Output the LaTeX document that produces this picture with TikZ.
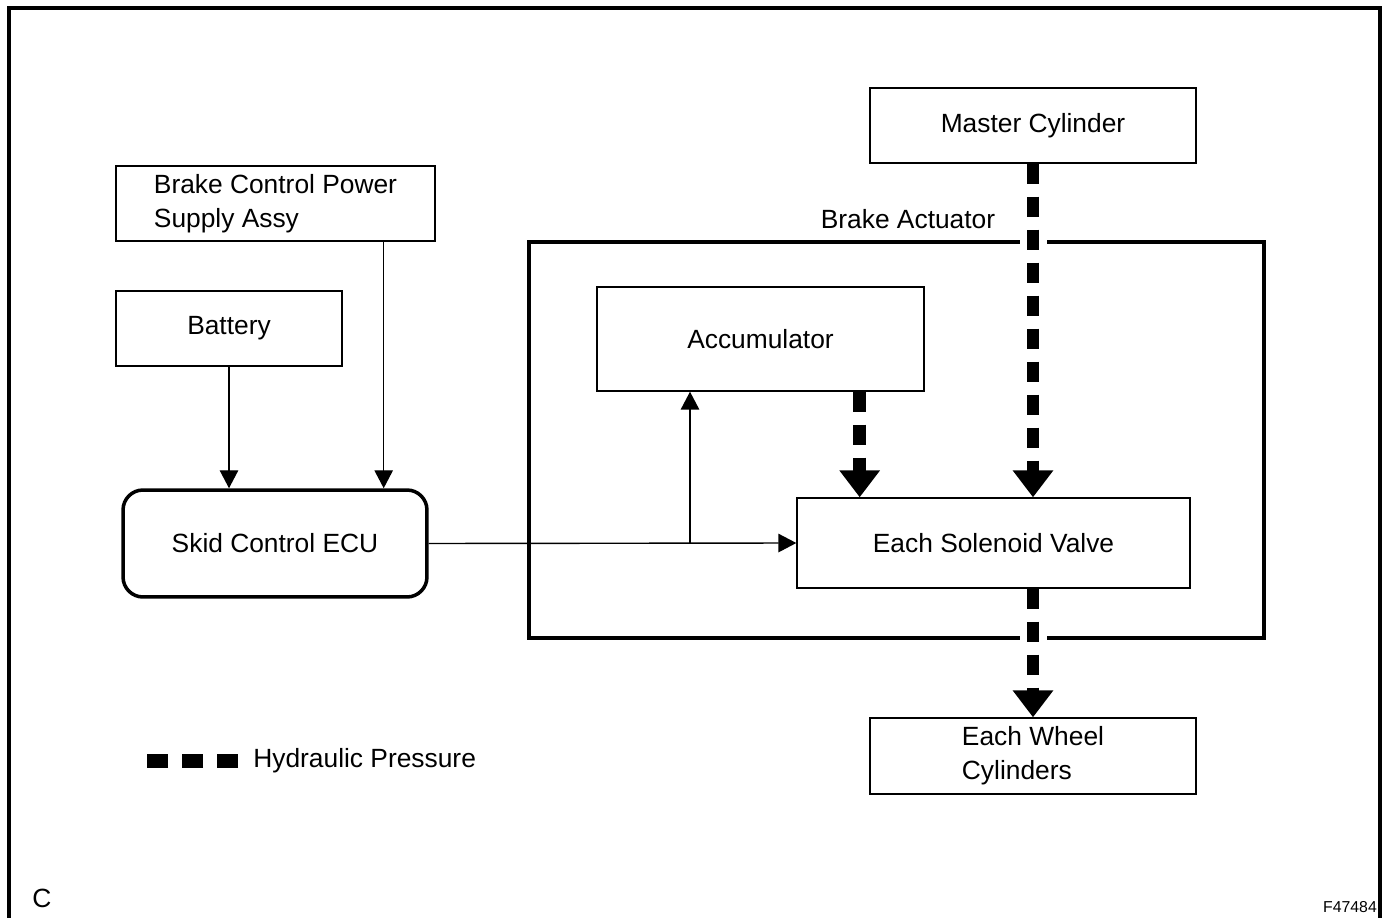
\documentclass[tikz,border=0pt]{standalone}
\usepackage{fontspec}
\setmainfont{Liberation Sans}
\usetikzlibrary{arrows.meta,calc}

\begin{document}
\begin{tikzpicture}[x=0.02cm,y=-0.02cm,
  txt/.style={inner sep=0pt,font=\fontsize{15}{19.3}\selectfont},
  box/.style={txt,draw,line width=0.8pt},
  sig/.style={line width=0.8pt,-{Triangle[width=0.37cm,length=0.36cm]}},
  hyd/.style={line width=0.25cm,dash pattern=on 0.4cm off 0.26cm,-{Triangle[width=0.78cm,length=0.54cm]}}]
\useasboundingbox (0,0) rectangle (1388,918);
\draw[line width=2pt] (9,918) -- (9,8) -- (1380,8) -- (1380,918);

\node[box,minimum width=6.38cm,minimum height=1.5cm,align=left] (psu) at (275.5,203.5) {Brake Control Power\\Supply Assy};
\node[box,minimum width=4.52cm,minimum height=1.5cm] (bat) at (229,328.5) {Battery};
\node[box,line width=2pt,rounded corners=0.4cm,minimum width=6.08cm,minimum height=2.14cm] (ecu) at (275,543.5) {Skid Control ECU};

\node[draw,line width=2pt,minimum width=14.7cm,minimum height=7.92cm] (act) at (896.5,440) {};
\node[txt] (actlbl) at (908,219) {Brake Actuator};
\node[box,minimum width=6.54cm,minimum height=2.08cm] (accu) at (760.5,339) {Accumulator};
\node[box,minimum width=7.86cm,minimum height=1.8cm] (solv) at (993.5,543) {Each Solenoid Valve};
\node[box,minimum width=6.52cm,minimum height=1.5cm] (master) at (1033,125.5) {Master Cylinder};
\node[box,minimum width=6.52cm,minimum height=1.52cm,align=left] (wheel) at (1033,756) {Each Wheel\\Cylinders};

% signal lines
\draw[sig] (bat.south) -- (bat.south |- ecu.north);
\draw[sig] ([xshift=-1.04cm]psu.south east) -- ([xshift=-1.04cm]psu.south east |- ecu.north);
\draw[sig] (ecu.east) -- (solv.west);
\coordinate (br) at (690,543);
\draw[sig] (br) -- (br |- accu.south);

% hydraulic lines
\fill[white] ($(master.south |- act.north)+(-0.27cm,-0.1cm)$) rectangle +(0.54cm,0.2cm);
\fill[white] ($(master.south |- act.south)+(-0.27cm,-0.1cm)$) rectangle +(0.54cm,0.2cm);
\draw[hyd] (master.south) -- (master.south |- solv.north);
\draw[hyd] ([xshift=-1.3cm]accu.south east) -- ([xshift=-1.3cm]accu.south east |- solv.north);
\draw[hyd] (solv.south -| master.south) -- (wheel.north);

\node[txt,anchor=west] (legend) at (253,761) {Hydraulic Pressure};
\draw[line width=0.28cm,dash pattern=on 0.42cm off 0.28cm] ([xshift=-0.3cm]legend.west) -- ++(-1.82cm,0);

\node[txt] (c) at (42,898) {C};
\node[inner sep=0pt,font=\fontsize{9}{10}\selectfont] (fig) at (1350,907) {F47484};
\end{tikzpicture}
\end{document}
